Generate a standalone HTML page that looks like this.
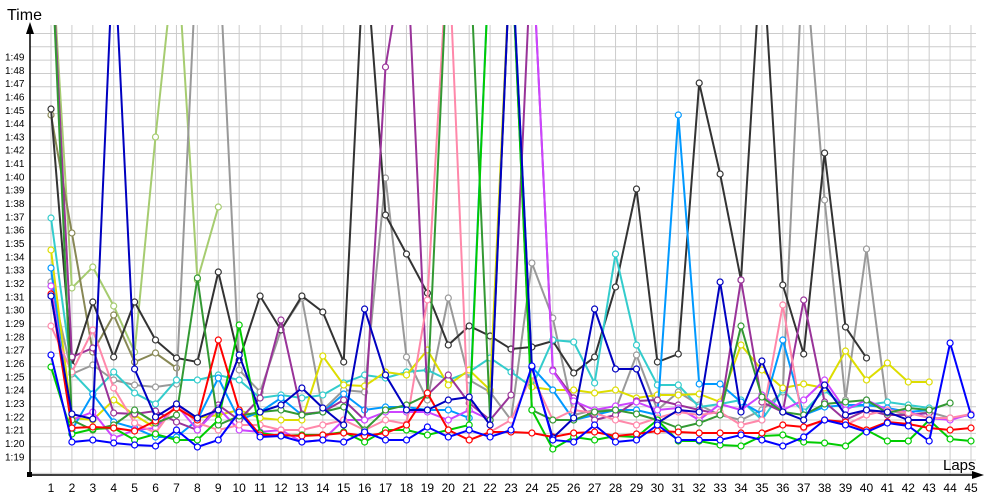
<!DOCTYPE html>
<html><head><meta charset="utf-8"><style>
html,body{margin:0;padding:0;background:#fff;}
svg{display:block;font-family:"Liberation Sans",sans-serif;}
</style></head><body>
<svg id="c" width="1000" height="500" viewBox="0 0 1000 500"></svg>
<script>
var s=document.getElementById('c'),h='';
function X(i){return 51+(i-1)*20.909;}
for(var k=-2;k<=31;k++){var y=446.7-k*13.33;if(y<28)break;h+='<line x1="30" x2="976" y1="'+y+'" y2="'+y+'" stroke="#cccccc" stroke-width="1"/>';}
for(var i=1;i<=45;i++){h+='<line x1="'+X(i)+'" x2="'+X(i)+'" y1="25" y2="475" stroke="#cccccc" stroke-width="1"/>';}
for(var v=19;v<=49;v++){var y=443-(v-20)*13.33;h+='<text x="5" y="'+(y+4)+'" font-size="10" fill="#000">1:'+v+'</text>';}
for(var i=1;i<=45;i++){h+='<text x="'+X(i)+'" y="492" font-size="12" text-anchor="middle" fill="#000">'+i+'</text>';}
var T=-60;
var S=[
['#a6cc70',[T,288,267,306,352,137,T,280,207]],
['#888855',[115,233,352,315,362,353,368]],
['#999999',[282,374,365,380,385,387,384,T,T,370,392,330,298,410,390,392,178,357,400,298,380,392,420,263,318,415,410,410,355,410,392,405,415,420,410,392,T,200,400,249,410,415,412,418,415]],
['#333333',[109,366,302,357,302,340,358,362,272,360,296,330,296,312,362,T,215,254,293,345,326,336,349,347,341,373,357,287,189,362,354,83,174,280,T,285,354,153,327,358]],
['#33cccc',[218,372,394,372,393,404,380,380,375,380,398,395,398,395,383,375,378,372,370,380,372,358,372,387,340,342,383,254,345,385,385,407,404,400,420,390,412,390,408,405,402,405,408]],
['#dddd00',[250,418,420,400,415,428,406,418,415,410,418,420,420,356,385,386,372,375,350,385,370,390,T,387,390,390,393,390,398,395,395,394,402,345,370,388,384,388,351,380,363,382,382]],
['#0099ff',[268,430,394,422,428,437,437,420,378,420,412,398,415,412,394,410,407,407,410,410,418,T,T,367,390,420,415,410,410,415,115,384,384,402,414,340,415,407,405,405,408,412,410]],
['#993399',[T,357,348,413,414,411,422,430,405,420,398,320,414,412,400,420,67,T,395,375,403,420,395,T,370,398,420,415,401,400,405,410,414,280,402,412,300,402,420,410,415,415,413]],
['#cc44ff',[286,420,412,438,430,428,405,430,408,430,432,430,442,440,420,420,412,412,412,420,410,420,T,T,371,401,410,406,402,410,408,420,404,410,395,410,400,380,410,400,410,412,418,420,414]],
['#ff88aa',[326,372,330,388,423,433,404,423,430,425,425,430,430,425,420,430,420,424,300,T,440,432,420,375,420,410,413,420,425,418,412,415,412,425,420,305,428,420,425,415,410,413,418,418,414]],
['#339933',[T,420,430,425,410,423,415,278,425,416,412,410,415,412,407,430,410,405,395,T,T,420,T,410,420,420,412,410,414,420,428,423,415,326,397,412,415,404,402,400,413,408,410,403]],
['#00cc00',[367,434,429,428,440,434,440,440,420,325,433,436,435,435,432,442,430,430,435,430,425,T,T,410,449,437,440,436,437,420,441,441,445,446,436,435,442,443,446,430,441,441,420,439,441]],
['#ff0000',[294,428,427,428,431,421,408,420,340,410,435,435,436,435,433,436,433,425,393,430,440,432,432,433,437,433,432,436,434,431,432,433,433,433,433,425,427,420,422,430,422,424,428,430,428]],
['#0000c0',[296,414,419,T,369,417,404,418,410,355,412,405,388,408,425,309,375,410,410,400,397,425,T,367,438,418,309,369,369,423,410,412,282,412,361,412,420,385,415,410,412,420,420]],
['#0000ff',[355,442,440,443,445,446,430,447,440,412,437,436,442,440,442,432,440,440,427,437,430,437,430,366,440,442,425,442,440,425,440,440,440,435,440,446,437,420,425,432,423,426,441,343,415]]
];
S.forEach(function(a){var c=a[0],d=a[1],p='',dots='';
 d.forEach(function(y,j){var x=X(j+1);p+=(j?'L':'M')+x.toFixed(1)+','+y;
  if(y>20)dots+='<circle cx="'+x.toFixed(1)+'" cy="'+y+'" r="3" fill="#fff" stroke="'+c+'" stroke-width="1.2"/>';});
 h+='<path d="'+p+'" fill="none" stroke="'+c+'" stroke-width="2"/>'+dots;});
h+='<rect x="0" y="0" width="1000" height="25" fill="#fff"/>';
h+='<line x1="30" y1="475" x2="30" y2="28" stroke="#000" stroke-width="1.5"/><path d="M30,22 L26,34 L34,34Z" fill="#000"/>';
h+='<line x1="30" y1="475" x2="978" y2="475" stroke="#000" stroke-width="1.5"/><path d="M984,475 L972,471 L972,479Z" fill="#000"/>';
h+='<rect x="27" y="472" width="5" height="5" fill="#000"/>';
h+='<text x="7" y="20" font-size="16" fill="#000">Time</text>';
h+='<text x="943" y="470" font-size="15" fill="#000">Laps</text>';
s.innerHTML=h;
</script>
</body></html>
